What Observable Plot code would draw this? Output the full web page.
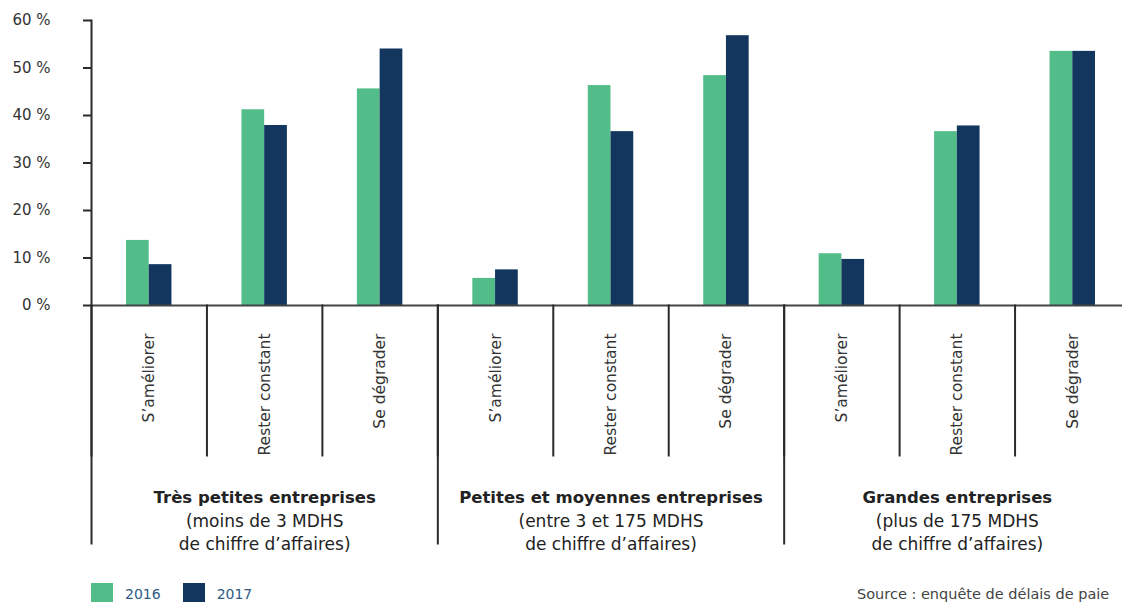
<!DOCTYPE html>
<html>
<head>
<meta charset="utf-8">
<script src="https://cdn.jsdelivr.net/npm/d3@7"></script>
<script src="https://cdn.jsdelivr.net/npm/@observablehq/plot@0.6"></script>
<style>
  html, body { margin: 0; padding: 0; background: #fff; overflow: hidden; }
  #wrap { position: relative; width: 1122px; height: 602px; overflow: hidden; font-family: "DejaVu Sans", sans-serif; }
  #chart { position: absolute; left: 0; top: 0; width: 1130px; }
  #chart svg { max-width: none !important; }
  #legend { position: absolute; left: 91px; top: 583px; display: flex; align-items: flex-start; }
  .item { display: flex; align-items: flex-start; margin-right: 22px; }
  .swatch { width: 22px; height: 22px; margin-right: 12px; }
  .lab { font-size: 14px; color: #2d5a86; line-height: 20px; margin-top: 1px; }
  #source { position: absolute; left: 857px; top: 586px; font-size: 14.5px; color: #444; white-space: nowrap; }
</style>
</head>
<body>
<div id="wrap">
  <div id="chart"></div>
  <div id="legend"></div>
  <div id="source">Source : enquête de délais de paie</div>
</div>
<script>
// ---- data ----
const groups = ["Très petites entreprises", "Petites et moyennes entreprises", "Grandes entreprises"];
const groupNotes = [
  "(moins de 3 MDHS\nde chiffre d’affaires)",
  "(entre 3 et 175 MDHS\nde chiffre d’affaires)",
  "(plus de 175 MDHS\nde chiffre d’affaires)"
];
const outlooks = ["S’améliorer", "Rester constant", "Se dégrader"];
const years = ["2016", "2017"];
const values2016 = [13.7, 41.2, 45.6, 5.7, 46.3, 48.4, 10.9, 36.6, 53.5];
const values2017 = [8.6, 37.9, 54.0, 7.5, 36.6, 56.8, 9.7, 37.8, 53.5];
const yTicks = [0, 10, 20, 30, 40, 50, 60];
const colors = ["#52bd89", "#13365e"];

// ---- build table ----
const keys = [];
groups.forEach(g => outlooks.forEach(o => keys.push(`${g}|${o}`)));
const rows = [];
keys.forEach((k, i) => {
  rows.push({key: k, year: years[0], value: values2016[i]});
  rows.push({key: k, year: years[1], value: values2017[i]});
});
const groupRows = groups.map((g, i) => ({group: g, note: groupNotes[i], mid: `${g}|${outlooks[1]}`, first: `${g}|${outlooks[0]}`}));

const W = 1130, H = 560, mT = 20, mB = 255, mL = 91;
const plotH = H - mT - mB;
const lineColor = "#2a2a2a";

const chart = Plot.plot({
  width: W, height: H,
  marginLeft: mL, marginRight: 0, marginTop: mT, marginBottom: mB,
  style: {fontFamily: "DejaVu Sans, sans-serif", color: "#333", overflow: "visible", maxWidth: "none"},
  fx: {domain: keys, padding: 0, round: false, label: null},
  x: {domain: years, paddingInner: 0, paddingOuter: 1.54, round: false, axis: null},
  y: {domain: [0, 60], label: null},
  color: {domain: years, range: colors},
  marks: [
    Plot.barY(rows, {fx: "key", x: "year", y: "value", fill: "year"}),
    Plot.ruleY([0], {stroke: "#444", strokeWidth: 2}),
    Plot.frame({anchor: "left", stroke: lineColor, strokeWidth: 2, insetTop: plotH, insetBottom: -150}),
    ...groupRows.map((g, i) => Plot.frame({
      anchor: "left", fx: () => g.first, stroke: lineColor, strokeWidth: 2,
      insetTop: i === 0 ? 0 : plotH, insetBottom: -238
    })),
    Plot.axisY({ticks: yTicks, tickFormat: d => `${d} %`, tickSize: 8, tickPadding: 33,
      fontSize: 15, stroke: lineColor, strokeWidth: 2, label: null}),
    Plot.axisFx({anchor: "bottom", tickSize: 0, tickPadding: 28, tickRotate: -90,
      tickFormat: k => k.split("|")[1], fontSize: 15.5, label: null}),
    Plot.text(groupRows, {fx: "mid", text: "group", frameAnchor: "bottom", lineAnchor: "middle",
      dy: 192, fontSize: 16.5, fontWeight: "bold", fill: "#222"}),
    Plot.text(groupRows, {fx: "mid", text: "note", frameAnchor: "bottom", lineAnchor: "middle",
      dy: 226, fontSize: 17, lineHeight: 1.32, fill: "#222"})
  ]
});
document.getElementById("chart").appendChild(chart);

// ---- legend ----
const legend = document.getElementById("legend");
years.forEach((y, i) => {
  const item = document.createElement("div");
  item.className = "item";
  const sw = document.createElement("div");
  sw.className = "swatch";
  sw.style.background = colors[i];
  const lab = document.createElement("div");
  lab.className = "lab";
  lab.textContent = y;
  item.appendChild(sw);
  item.appendChild(lab);
  legend.appendChild(item);
});
</script>
</body>
</html>
